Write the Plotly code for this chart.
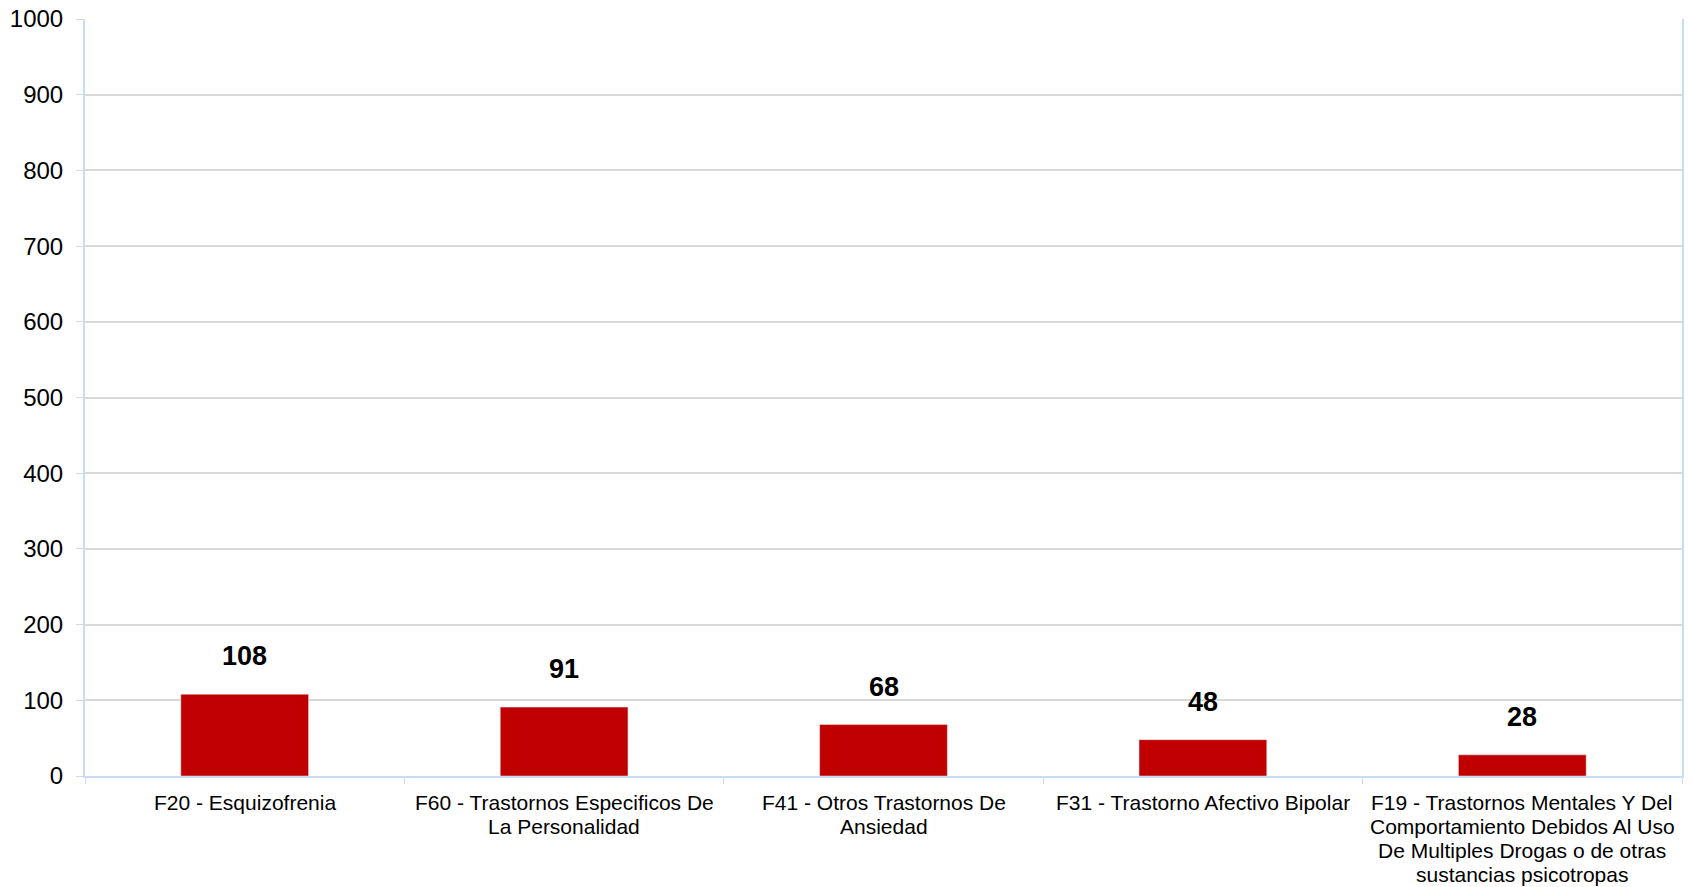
import plotly.graph_objects as go

categories = [
    "F20 - Esquizofrenia",
    "F60 - Trastornos Especificos De<br>La Personalidad",
    "F41 - Otros Trastornos De<br>Ansiedad",
    "F31 - Trastorno Afectivo Bipolar",
    "F19 - Trastornos Mentales Y Del<br>Comportamiento Debidos Al Uso<br>De Multiples Drogas o de otras<br>sustancias psicotropas",
]
values = [108, 91, 68, 48, 28]
y_ticks = [0, 100, 200, 300, 400, 500, 600, 700, 800, 900, 1000]

FONT = "Liberation Sans, Arial, sans-serif"
AXIS = "#c9ddf2"

fig = go.Figure()
fig.add_trace(go.Bar(
    x=categories, y=values, marker_color="#c00000", width=0.4,
    hoverinfo="y",
))

for c, v in zip(categories, values):
    fig.add_annotation(x=c, y=v, text=f"<b>{v}</b>", showarrow=False,
                       yshift=38, font=dict(family=FONT, size=27, color="black"))

# category labels drawn line by line (tighter line spacing, like the reference)
for c in categories:
    for i, line in enumerate(c.split("<br>")):
        fig.add_annotation(x=c, y=0, yref="paper", text=line, showarrow=False,
                           yanchor="middle", yshift=-(26 + 24.3 * i),
                           font=dict(family=FONT, size=21, color="black"))

fig.update_layout(
    width=1692, height=887,
    margin=dict(l=85, r=10, t=19, b=111),
    paper_bgcolor="white", plot_bgcolor="white",
    showlegend=False,
    font=dict(family=FONT, color="black"),
    bargap=0.6,
)
fig.update_xaxes(
    type="category", tickson="boundaries", ticks="outside", ticklen=6,
    tickcolor=AXIS, showline=True, linecolor=AXIS, linewidth=2,
    showticklabels=False,
    showgrid=False, mirror=False, automargin=False,
)
fig.update_yaxes(
    range=[0, 1000], tickvals=y_ticks, ticks="outside", ticklen=7,
    tickcolor=AXIS, showline=True, linecolor=AXIS, linewidth=2, mirror=True,
    showgrid=True, gridcolor="#d9d9d9", gridwidth=1.5,
    tickfont=dict(family=FONT, size=24, color="black"),
    zeroline=False, automargin=False, ticklabelstandoff=8,
)

fig.write_html("out.html", post_script="document.body.style.margin='0';",
               config={"displayModeBar": False})
